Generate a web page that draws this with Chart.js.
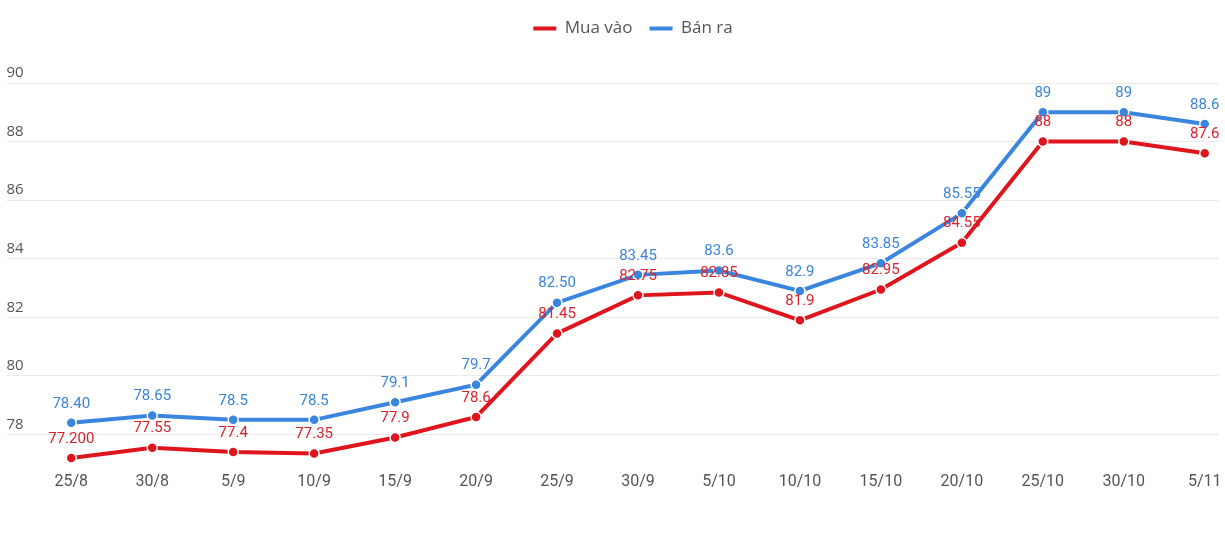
<!DOCTYPE html>
<html>
<head>
<meta charset="utf-8">
<script src="https://cdn.jsdelivr.net/npm/chart.js@4"></script>
<style>
html,body{margin:0;padding:0;background:#fff;}
#wrap{width:1225px;height:535px;position:relative;}
</style>
</head>
<body>
<div id="wrap"><canvas id="c"></canvas></div>
<script>
const categories = ['25/8','30/8','5/9','10/9','15/9','20/9','25/9','30/9','5/10','10/10','15/10','20/10','25/10','30/10','5/11'];
const buyValues = [77.2, 77.55, 77.4, 77.35, 77.9, 78.6, 81.45, 82.75, 82.85, 81.9, 82.95, 84.55, 88, 88, 87.6];
const sellValues = [78.4, 78.65, 78.5, 78.5, 79.1, 79.7, 82.5, 83.45, 83.6, 82.9, 83.85, 85.55, 89, 89, 88.6];
const buyLabels = ['77.200','77.55','77.4','77.35','77.9','78.6','81.45','82.75','82.85','81.9','82.95','84.55','88','88','87.6'];
const sellLabels = ['78.40','78.65','78.5','78.5','79.1','79.7','82.50','83.45','83.6','82.9','83.85','85.55','89','89','88.6'];
const yTicks = [78, 80, 82, 84, 86, 88, 90];

const RED = '#e0141c';
const BLUE = '#3a85de';
const RED_TXT = '#d9222a';
const BLUE_TXT = '#3a85d8';

const labelPlugin = {
  id: 'pointLabels',
  afterDatasetsDraw(chart) {
    const ctx = chart.ctx;
    ctx.save();
    ctx.font = '15px Roboto';
    ctx.textAlign = 'center';
    ctx.textBaseline = 'middle';
    chart.data.datasets.forEach((ds, di) => {
      const meta = chart.getDatasetMeta(di);
      meta.data.forEach((pt, i) => {
        ctx.fillStyle = ds.labelColor;
        ctx.fillText(ds.pointTexts[i], pt.x, pt.y - 19);
      });
    });
    ctx.restore();
  }
};

const legendBox = {
  id: 'legendBox',
  beforeInit(chart) {
    const origFit = chart.legend.fit;
    chart.legend.fit = function() {
      origFit.bind(chart.legend)();
      this.height = 83;
    };
  },
  afterLayout(chart) {
    const lg = chart.legend;
    lg.left += 19; lg.right += 19;
    lg.top += 3; lg.bottom += 3;
  }
};

new Chart(document.getElementById('c'), {
  type: 'line',
  data: {
    datasets: [
      {
        label: 'Mua vào',
        data: buyValues.map((v, i) => ({x: i, y: v})),
        pointTexts: buyLabels,
        labelColor: RED_TXT,
        borderColor: RED,
        backgroundColor: RED,
        borderWidth: 4,
        pointRadius: 5,
        pointBackgroundColor: RED,
        pointBorderColor: '#ffffff',
        pointBorderWidth: 1.5,
        tension: 0
      },
      {
        label: 'Bán ra',
        data: sellValues.map((v, i) => ({x: i, y: v})),
        pointTexts: sellLabels,
        labelColor: BLUE_TXT,
        borderColor: BLUE,
        backgroundColor: BLUE,
        borderWidth: 4,
        pointRadius: 5,
        pointBackgroundColor: BLUE,
        pointBorderColor: '#ffffff',
        pointBorderWidth: 1.5,
        tension: 0
      }
    ]
  },
  options: {
    responsive: true,
    maintainAspectRatio: false,
    animation: false,
    layout: { padding: { left: 6, right: 3, top: 0, bottom: 42 } },
    plugins: {
      tooltip: { enabled: false },
      legend: {
        position: 'top',
        align: 'center',
        labels: {
          font: { family: 'Open Sans', size: 17 },
          color: '#555555',
          boxWidth: 23,
          boxHeight: 4,
          padding: 17,
          generateLabels(chart) {
            const items = Chart.defaults.plugins.legend.labels.generateLabels(chart);
            items.forEach(it => { it.lineWidth = 0; });
            return items;
          }
        }
      }
    },
    scales: {
      x: {
        type: 'linear',
        min: -0.8,
        max: 14.17,
        grid: { display: false },
        border: { display: false },
        afterBuildTicks(scale) {
          scale.ticks = categories.map((c, i) => ({ value: i }));
        },
        ticks: {
          autoSkip: false,
          maxRotation: 0,
          padding: 1,
          color: '#555555',
          font: { family: 'Roboto', size: 16 },
          callback: (v) => categories[v]
        }
      },
      y: {
        min: 77,
        max: 90,
        afterBuildTicks(scale) {
          scale.ticks = yTicks.map(v => ({ value: v }));
        },
        grid: { color: '#e9e9e9', lineWidth: 1, drawTicks: false },
        border: { display: false },
        ticks: {
          mirror: true,
          padding: 0,
          labelOffset: -10,
          color: '#555555',
          font: { family: 'Open Sans', size: 15 }
        }
      }
    }
  },
  plugins: [labelPlugin, legendBox]
});
</script>
</body>
</html>
